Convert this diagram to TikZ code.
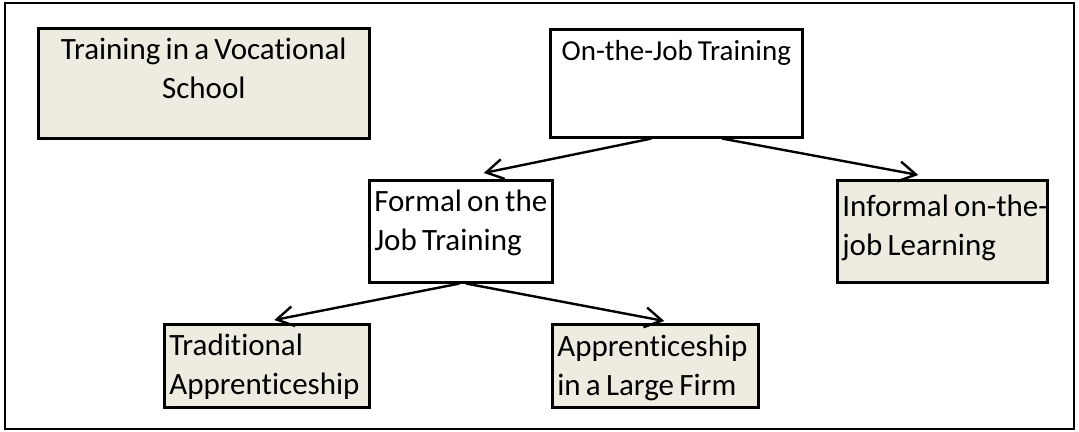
\documentclass[tikz,border=0pt]{standalone}
\usepackage{fontspec}
\setmainfont{Carlito}[Ligatures=NoCommon]
\usetikzlibrary{arrows.meta}
\definecolor{boxfill}{HTML}{EEECE1}
\tikzset{
  box/.style={draw, line width=1.3pt, anchor=north west, inner xsep=2.5pt, inner ysep=0pt,
    text height=15.5pt, align=left, font=\fontsize{15.5pt}{19.5pt}\selectfont,
    execute at begin node={\spaceskip=0.17em\xspaceskip=0.17em\hyphenpenalty=10000\exhyphenpenalty=10000\relax}},
  tanbox/.style={box, fill=boxfill},
  link/.style={line width=1.2pt, -{Straight Barb[length=8.5pt,width=10pt]}}
}
\begin{document}
\begin{tikzpicture}[x=0.5pt, y=-0.5pt]
    \useasboundingbox (0,0) rectangle (1079,432);
    \draw[line width=1.3pt] (5,3) rectangle (1074,429);

    \node[tanbox, text width=160.5pt, text depth=39.5pt, align=center] (school) at (37,27) {Training~in~a~Vocational\\School};
    \node[box, inner xsep=0.5pt, text width=125pt, text depth=38.5pt, align=center,
          font=\fontsize{14.5pt}{19.5pt}\selectfont]                    (onjob) at (549,28) {On-the-Job~Training};
    \node[box, text width=86.5pt, text depth=35.5pt]                   (formal) at (368,179) {Formal~on~the\\Job~Training};
    \node[tanbox, text width=100pt, text height=18pt, text depth=33pt] (informal) at (836,179) {Informal~on-the-\\job~Learning};
    \node[tanbox, text width=97.5pt, text depth=26pt]                  (traditional) at (163,323) {Traditional\\Apprenticeship};
    \node[tanbox, text width=98pt, text height=16pt, text depth=25.5pt] (largefirm) at (551,323) {Apprenticeship\\in~a~Large~Firm};

    \draw[link] ([xshift=-12.5pt]onjob.south)  -- ([xshift=11.5pt,yshift=3pt]formal.north);
    \draw[link] ([xshift=23pt]onjob.south)     -- ([xshift=-12pt,yshift=2pt]informal.north);
    \draw[link] ([xshift=-0.75pt]formal.south) -- ([xshift=3.75pt,yshift=1.5pt]traditional.north);
    \draw[link] ([xshift=2.75pt]formal.south)  -- ([xshift=4.5pt,yshift=1pt]largefirm.north);
  \end{tikzpicture}
\end{document}
